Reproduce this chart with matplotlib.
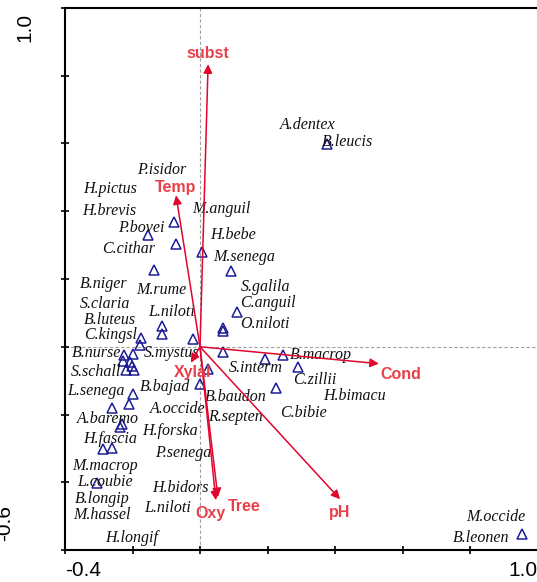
import matplotlib.pyplot as plt
import numpy as np

# species points (CCA scores, axis 1 / axis 2)
pts_x = [-0.077, -0.154, -0.071, 0.006, -0.136, 0.092, 0.110, -0.113, -0.113,
         0.068, 0.068, -0.175, -0.178, -0.021, 0.068, -0.225, -0.199, -0.228,
         -0.207, -0.202, -0.219, -0.196, 0.024, 0.000, -0.199, -0.210, -0.261,
         -0.231, -0.237, -0.287, -0.261, -0.305, 0.193, 0.246, 0.290, 0.225,
         0.376, 0.954]
pts_y = [0.367, 0.331, 0.302, 0.281, 0.228, 0.225, 0.104, 0.062, 0.038,
         0.056, 0.047, 0.027, 0.006, 0.024, -0.015, -0.024, -0.021, -0.041,
         -0.044, -0.056, -0.068, -0.068, -0.065, -0.109, -0.139, -0.169, -0.180,
         -0.228, -0.237, -0.302, -0.299, -0.402, -0.036, -0.024, -0.059, -0.121,
         0.598, -0.553]

# species labels
sp_names = ["P.isidor", "H.pictus", "A.dentex", "B.leucis", "H.brevis", "M.anguil",
            "P.bovei", "H.bebe", "C.cithar", "M.senega", "B.niger", "M.rume",
            "S.galila", "S.claria", "C.anguil", "L.niloti", "B.luteus", "O.niloti",
            "C.kingsl", "B.nurse", "S.mystus", "S.schall", "L.senega", "B.bajad",
            "A.occide", "A.baremo", "H.forska", "H.fascia", "P.senega", "M.macrop",
            "L.coubie", "H.bidors", "B.longip", "L.niloti", "M.hassel", "H.longif",
            "B.macrop", "S.interm", "C.zillii", "B.baudon", "R.septen", "C.bibie",
            "H.bimacu", "M.occide", "B.leonen"]
sp_x = [-0.113, -0.267, 0.320, 0.436, -0.270, 0.062, -0.175, 0.098, -0.213, 0.130,
        -0.284, -0.116, 0.193, -0.281, 0.201, -0.083, -0.267, 0.193, -0.264, -0.308,
        -0.083, -0.308, -0.308, -0.104, -0.065, -0.273, -0.089, -0.267, -0.050, -0.281,
        -0.281, -0.059, -0.290, -0.095, -0.290, -0.201, 0.359, 0.166, 0.341, 0.107,
        0.104, 0.308, 0.459, 0.877, 0.833]
sp_y = [0.521, 0.467, 0.654, 0.604, 0.402, 0.408, 0.352, 0.331, 0.290, 0.266,
        0.186, 0.169, 0.175, 0.127, 0.130, 0.104, 0.080, 0.068, 0.036, -0.018,
        -0.018, -0.074, -0.130, -0.118, -0.183, -0.213, -0.249, -0.272, -0.314, -0.352,
        -0.399, -0.417, -0.450, -0.476, -0.497, -0.565, -0.024, -0.062, -0.098, -0.148,
        -0.207, -0.195, -0.145, -0.503, -0.565]

# environmental variables: arrow tips and label positions
env_names = ["subst", "Temp", "Xylal", "Oxy", "Tree", "Cond", "pH"]
env_x = [0.024, -0.071, -0.027, 0.047, 0.053, 0.530, 0.415]
env_y = [0.834, 0.447, -0.047, -0.453, -0.444, -0.050, -0.450]
lab_x = [0.024, -0.071, -0.021, 0.030, 0.130, 0.596, 0.415]
lab_y = [0.867, 0.470, -0.077, -0.491, -0.473, -0.083, -0.488]

fig = plt.figure(figsize=(5.37, 5.82), dpi=100)
ax = fig.add_axes([65 / 537, 32 / 582, 472.5 / 537, 542 / 582])
ax.set_xlim(-0.4, 1.0)
ax.set_ylim(-0.6, 1.0)

ax.axhline(0, color="#a0a0a0", lw=0.8, ls=(0, (3, 2)), zorder=1)
ax.axvline(0, color="#a0a0a0", lw=0.8, ls=(0, (3, 2)), zorder=1)

ax.plot(pts_x, pts_y, ls="none", marker="^", ms=6.5, mfc="none",
        mec="#1c1c96", mew=1.1, zorder=3)

for n, x, y in zip(sp_names, sp_x, sp_y):
    ax.text(x, y, n, fontsize=11.5, family="Liberation Serif", style="italic",
            ha="center", va="center", color="#111111", zorder=4)

for n, x, y, lx, ly in zip(env_names, env_x, env_y, lab_x, lab_y):
    ax.annotate("", xy=(x, y), xytext=(0, 0),
                arrowprops=dict(arrowstyle="-|>", color="#e0062e", lw=1.1,
                                mutation_scale=13, shrinkA=0, shrinkB=0),
                zorder=5)
    ax.text(lx, ly, n, fontsize=11.5, family="Liberation Sans", weight="bold",
            color="#e8404a", ha="center", va="center", zorder=6)

for s in ["left", "bottom", "top"]:
    ax.spines[s].set_linewidth(1.5)
ax.spines["right"].set_visible(False)

ax.set_xticks(np.arange(-0.4, 1.01, 0.2))
ax.set_yticks(np.arange(-0.6, 1.01, 0.2))
ax.set_xticklabels([])
ax.set_yticklabels([])
ax.tick_params(direction="inout", length=6, width=1.2)

# corner labels as CANOCO draws them
fig.text(65 / 537, 12 / 582, "-0.4", fontsize=15, family="Liberation Sans",
         ha="left", va="center")
fig.text(537 / 537, 12 / 582, "1.0", fontsize=15, family="Liberation Sans",
         ha="right", va="center")
fig.text(25 / 537, 1 - 27 / 582, "1.0", fontsize=15, family="Liberation Sans",
         rotation=90, ha="center", va="center")
fig.text(5 / 537, 1 - 523 / 582, "-0.6", fontsize=15, family="Liberation Sans",
         rotation=90, ha="center", va="center")

fig.savefig("out.png", dpi=100)
